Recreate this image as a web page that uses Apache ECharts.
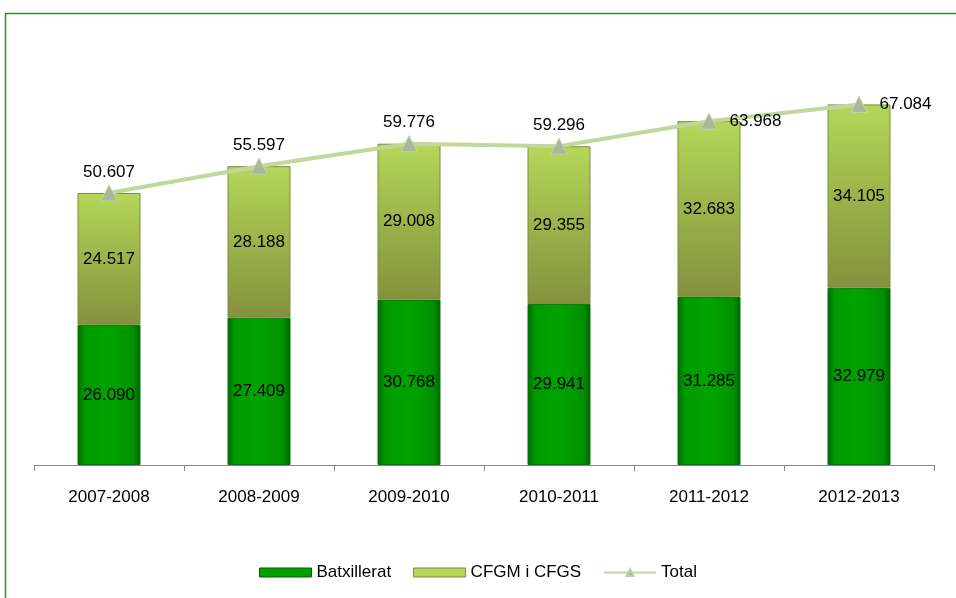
<!DOCTYPE html>
<html><head><meta charset="utf-8">
<script src="https://cdn.jsdelivr.net/npm/echarts@6/dist/echarts.min.js"></script>
<style>html,body{margin:0;padding:0;background:#fff}#c{width:956px;height:598px}</style>
</head><body><div id="c"></div>
<script>
const categories = ['2007-2008','2008-2009','2009-2010','2010-2011','2011-2012','2012-2013'];
const batxillerat = [26090, 27409, 30768, 29941, 31285, 32979];
const cfgm = [24517, 28188, 29008, 29355, 32683, 34105];
const total = [50607, 55597, 59776, 59296, 63968, 67084];

const fmt = v => (v/1000).toFixed(3);
const FONT = 'Liberation Sans';
const chart = echarts.init(document.getElementById('c'));
const greenGrad = new echarts.graphic.LinearGradient(0,0,1,0,[
  {offset:0,color:'#006b00'},{offset:0.12,color:'#009a00'},{offset:0.5,color:'#00a300'},{offset:0.88,color:'#009200'},{offset:1,color:'#006400'}]);
const oliveGrad = new echarts.graphic.LinearGradient(0,0,0,1,[
  {offset:0,color:'#b4d85a'},{offset:0.35,color:'#a2be4e'},{offset:1,color:'#84913e'}]);
chart.setOption({
  animation:false,
  textStyle:{fontFamily:FONT},
  graphic:[{type:'rect',shape:{x:5.5,y:13.5,width:1000,height:1000},style:{fill:'none',stroke:'#2f8f2f',lineWidth:1.5},silent:true}],
  grid:{left:34,right:22,top:35,bottom:133},
  legend:{bottom:12,left:'center',itemGap:22,textStyle:{fontSize:17,color:'#000',fontFamily:FONT},
    data:[{name:'Batxillerat',icon:'rect',itemStyle:{color:'#00a000',borderColor:'#006400',borderWidth:1}},
          {name:'CFGM i CFGS',icon:'rect',itemStyle:{color:'#b4d85a',borderColor:'#7a8a3a',borderWidth:1}},
          {name:'Total'}],
    itemWidth:52,itemHeight:9},
  xAxis:{type:'category',data:categories,
    axisLine:{lineStyle:{color:'#888',width:1}},
    axisTick:{show:true,interval:0,length:6,lineStyle:{color:'#888'}},
    axisLabel:{fontSize:17,color:'#000',margin:24,fontFamily:FONT}},
  yAxis:{type:'value',min:0,max:80000,show:false,splitLine:{show:false}},
  series:[
    {name:'Batxillerat',type:'bar',stack:'s',barWidth:63,data:batxillerat,
     itemStyle:{color:greenGrad,borderColor:'#00750a',borderWidth:1},
     label:{show:true,position:'inside',fontSize:17,color:'#000',formatter:p=>fmt(p.value),fontFamily:FONT}},
    {name:'CFGM i CFGS',type:'bar',stack:'s',barWidth:63,data:cfgm,
     itemStyle:{color:oliveGrad,borderColor:'#7d8c3c',borderWidth:1},
     label:{show:true,position:'inside',fontSize:17,color:'#000',formatter:p=>fmt(p.value),fontFamily:FONT}},
    {name:'Total',type:'line',data:total.map((v,i)=>({value:v,label:{position:i>=4?'right':'top',distance:i>=4?12:4}})),
     symbol:'triangle',symbolSize:[16,16],
     lineStyle:{color:'#c4d79b',width:4},
     itemStyle:{color:'#a9b896',borderColor:'#c4ceb3',borderWidth:1},
     label:{show:true,fontSize:17,color:'#000',formatter:p=>fmt(p.value),fontFamily:FONT},z:5}
  ]
});
</script></body></html>
